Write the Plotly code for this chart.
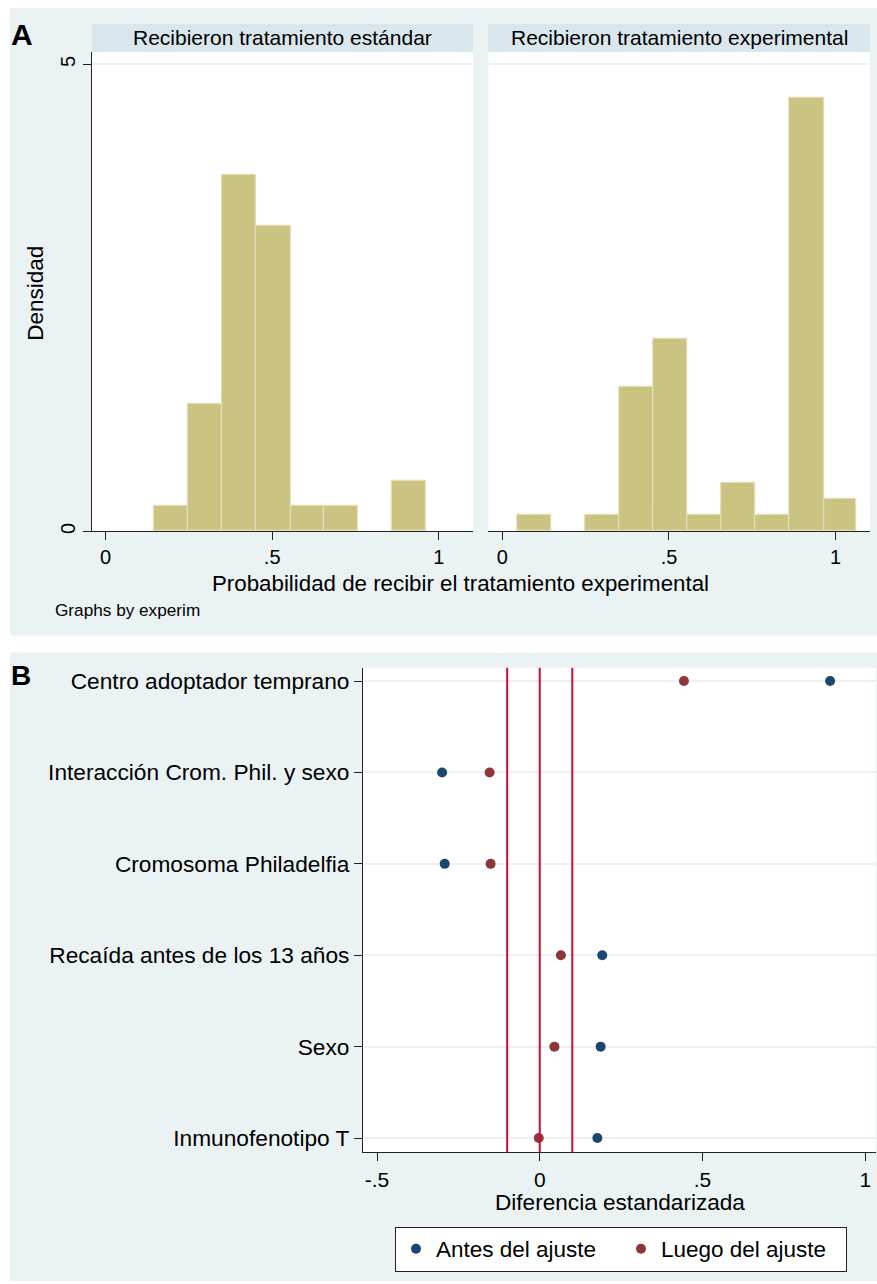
import plotly.graph_objects as go

# ---------------- Data ----------------
# Panel A: histogram (density) of propensity score by treatment group
std_edges = [0.145, 0.246, 0.350, 0.451, 0.556, 0.657, 0.759, 0.859, 0.963]
std_density = [0.27, 1.36, 3.82, 3.27, 0.27, 0.27, 0.0, 0.54]

exp_edges = [0.045, 0.146, 0.248, 0.350, 0.453, 0.555, 0.658, 0.760, 0.860, 0.965, 1.063]
exp_density = [0.174, 0.0, 0.174, 1.545, 2.065, 0.174, 0.519, 0.174, 4.646, 0.345]

facet_titles = ["Recibieron tratamiento estándar", "Recibieron tratamiento experimental"]

# Panel B: standardized differences
covariates = ["Inmunofenotipo T", "Sexo", "Recaída antes de los 13 años",
              "Cromosoma Philadelfia", "Interacción Crom. Phil. y sexo",
              "Centro adoptador temprano"]
before_adj = [0.177, 0.187, 0.192, -0.292, -0.300, 0.892]
after_adj = [-0.003, 0.045, 0.065, -0.151, -0.154, 0.443]
ref_lines = [-0.1, 0.0, 0.1]

# ---------------- Styling ----------------
W, H = 877, 1284
FONT = "Liberation Sans, Arial, Helvetica, sans-serif"
BG = "#EAF2F3"
STRIP = "#D9E6EB"
BAR = "#CBC382"
BAR_LINE = "#E4DFB8"
BLUE = "#1A476F"
RED = "#90353B"
VLINE = "#C8102E"
AXIS = "#222222"

def px(x):
    return x / W

def py(y):
    return 1 - y / H

fig = go.Figure()

def add_hist(edges, dens, xa, ya):
    mids = [(edges[i] + edges[i + 1]) / 2 for i in range(len(dens))]
    widths = [edges[i + 1] - edges[i] for i in range(len(dens))]
    lw = [1.2 if d > 0 else 0 for d in dens]
    fig.add_trace(go.Bar(x=mids, y=dens, width=widths, xaxis=xa, yaxis=ya,
                         marker=dict(color=BAR, line=dict(color=BAR_LINE, width=lw)),
                         showlegend=False, hoverinfo="skip"))

add_hist(std_edges, std_density, "x", "y")
add_hist(exp_edges, exp_density, "x2", "y2")

fig.add_trace(go.Scatter(x=before_adj, y=covariates, mode="markers", xaxis="x3", yaxis="y3",
                         marker=dict(color=BLUE, size=10), name="Antes del ajuste"))
fig.add_trace(go.Scatter(x=after_adj, y=covariates, mode="markers", xaxis="x3", yaxis="y3",
                         marker=dict(color=RED, size=10), name="Luego del ajuste"))

# ---------------- Axes ----------------
A_top, A_bot = 52, 532.6
B_top, B_bot = 669.3, 1155
A1_l, A1_r = 92, 473
A2_l, A2_r = 488.3, 870
B_l, B_r = 363, 876
yA_dom = [py(A_bot), py(A_top)]
yA_range = [0, 5.135]

common_x = dict(showgrid=False, zeroline=False, showline=True, linecolor=AXIS, linewidth=1,
                ticks="outside", ticklen=8, tickcolor=AXIS,
                tickfont=dict(size=20, color="black", family=FONT))

fig.update_layout(
    xaxis=dict(domain=[px(A1_l), px(A1_r)], range=[-0.041, 1.103], anchor="y",
               tickvals=[0, 0.5, 1], ticktext=["0", ".5", "1"], **common_x),
    yaxis=dict(domain=yA_dom, range=yA_range, anchor="x", tickvals=[0, 5], ticktext=["0", "5"],
               tickangle=-90, showline=True, linecolor=AXIS, linewidth=1, ticks="outside",
               ticklen=8, tickcolor=AXIS, ticklabelstandoff=0, zeroline=False,
               showgrid=True, gridcolor=BG, gridwidth=2,
               tickfont=dict(size=20, color="black", family=FONT)),
    xaxis2=dict(domain=[px(A2_l), px(A2_r)], range=[-0.042, 1.103], anchor="y2",
                tickvals=[0, 0.5, 1], ticktext=["0", ".5", "1"], **common_x),
    yaxis2=dict(domain=yA_dom, range=yA_range, anchor="x2", tickvals=[0, 5],
                showticklabels=False, showline=False, ticks="", zeroline=False,
                showgrid=True, gridcolor=BG, gridwidth=2),
    xaxis3=dict(domain=[px(B_l), px(B_r)], range=[-0.543, 1.033], anchor="y3",
                tickvals=[-0.5, 0, 0.5, 1], ticktext=["-.5", "0", ".5", "1"],
                showgrid=False, zeroline=False, showline=True, linecolor=AXIS, linewidth=1,
                ticks="outside", ticklen=8, tickcolor=AXIS,
                tickfont=dict(size=21, color="black", family=FONT)),
    yaxis3=dict(domain=[py(B_bot), py(B_top)], range=[-0.156, 5.146], anchor="x3",
                type="category", categoryorder="array", categoryarray=covariates,
                showgrid=True, gridcolor=BG, gridwidth=2, zeroline=False,
                showline=True, linecolor=AXIS, linewidth=1, ticks="outside", ticklen=8,
                tickcolor=AXIS, ticklabelstandoff=0,
                tickfont=dict(size=22.7, color="black", family=FONT)),
)

# ---------------- Shapes ----------------
def prect(x0, x1, y0, y1, color):
    return dict(type="rect", xref="paper", yref="paper", x0=px(x0), x1=px(x1),
                y0=py(y1), y1=py(y0), fillcolor=color, line=dict(width=0), layer="below")

shapes = [
    prect(10, W, 8, 637, BG),
    prect(10, W, 654, H, BG),
    prect(A1_l, A1_r, 24, 52, STRIP),
    prect(A2_l, A2_r, 24, 52, STRIP),
    prect(A1_l, A1_r, A_top, A_bot, "white"),
    prect(A2_l, A2_r, A_top, A_bot, "white"),
    prect(B_l, B_r, B_top, B_bot, "white"),
]
for v in ref_lines:
    shapes.append(dict(type="line", xref="x3", yref="y3 domain", x0=v, x1=v, y0=0, y1=1,
                       line=dict(color=VLINE, width=2), layer="above"))
fig.update_layout(shapes=shapes)

# ---------------- Annotations ----------------
def ann(text, x, y, size, bold=False, angle=0, xanchor="center"):
    return dict(text=("<b>%s</b>" % text) if bold else text, x=px(x), y=py(y),
                xref="paper", yref="paper", showarrow=False, xanchor=xanchor, yanchor="middle",
                textangle=angle, font=dict(size=size, color="black", family=FONT))

annotations = [
    ann("A", 21.5, 35, 30, bold=True),
    ann("B", 21, 677, 28, bold=True),
    ann(facet_titles[0], (A1_l + A1_r) / 2, 38, 21),
    ann(facet_titles[1], (A2_l + A2_r) / 2, 38, 21),
    ann("Densidad", 35.5, 294, 22.5, angle=-90),
    ann("Probabilidad de recibir el tratamiento experimental", 460, 585, 22.3),
    ann("Graphs by experim", 53, 611, 17.2, xanchor="left"),
    ann("Diferencia estandarizada", 620, 1205, 22.6),
]
fig.update_layout(annotations=annotations)

fig.update_layout(
    width=W, height=H, margin=dict(l=0, r=0, t=0, b=0),
    paper_bgcolor="white", plot_bgcolor="white",
    font=dict(family=FONT, color="black"),
    bargap=0,
    showlegend=True,
    legend=dict(orientation="h", x=px(621), y=py(1252), xanchor="center", yanchor="middle",
                bgcolor="white", bordercolor="#222222", borderwidth=1,
                font=dict(size=22.5, color="black", family=FONT),
                itemwidth=30, entrywidth=180, tracegroupgap=0),
)

fig.write_html("out.html", config={"displayModeBar": False},
               post_script="document.body.style.margin='0';document.body.style.padding='0';document.body.style.overflow='hidden';")
